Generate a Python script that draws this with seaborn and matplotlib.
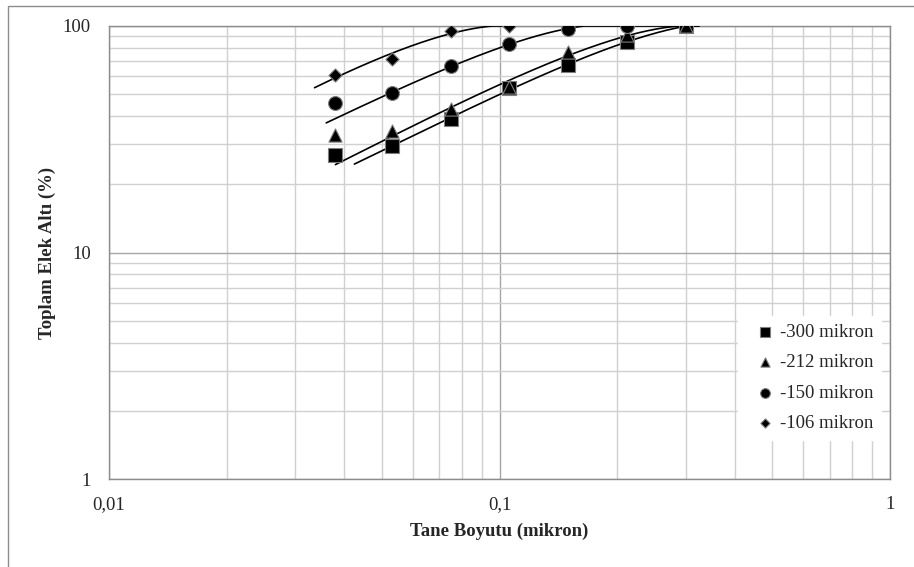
import numpy as np
import pandas as pd
import matplotlib
matplotlib.use("Agg")
import matplotlib.pyplot as plt
import matplotlib.ticker as mticker
import seaborn as sns

# elek acikliklari (x) ve toplam elek alti (%)
sizes = [0.038, 0.053, 0.075, 0.106, 0.150, 0.212, 0.300]
s300 = [27.0, 29.5, 38.8, 53.4, 67.5, 84.8, 100.0]
s212 = [33.0, 34.5, 42.9, 54.0, 76.4, 91.0, 100.0]
s150 = [45.9, 50.4, 66.8, 83.1, 97.0, 100.0]
s106 = [61.0, 71.7, 95.4, 100.0]
labels = ["-300 mikron", "-212 mikron", "-150 mikron", "-106 mikron"]
# trend cizgisi araliklari ve fite girmeyen ilk nokta sayisi
trend_from = [0.0425, 0.038, 0.036, 0.0336]
trend_to = [0.324, 0.324, 0.324, 0.108]
fit_skip = [1, 1, 1, 0]

series = [s300, s212, s150, s106]
rows = []
for lab, vals in zip(labels, series):
    for x, y in zip(sizes, vals):
        rows.append((lab, x, y))
df = pd.DataFrame(rows, columns=["seri", "x", "y"])

sns.set_style("white")
plt.rcParams["font.family"] = ["Liberation Serif", "DejaVu Serif"]

fig = plt.figure(figsize=(9.14, 5.67), dpi=100)
ax = fig.add_axes([109 / 914, 1 - 479 / 567, 781 / 914, 453 / 567])

# trend cizgileri (2. derece polinom, 100'de sinirli)
for lab, vals, a, b, k in zip(labels, series, trend_from, trend_to, fit_skip):
    xs = np.array(sizes[k:len(vals)])
    c = np.polyfit(xs, vals[k:], 2)
    xx = np.geomspace(a, b, 300)
    yy = np.polyval(c, xx)
    top = np.argmax(yy)
    yy[top:] = yy[top]
    yy = np.minimum(yy, 100)
    sns.lineplot(x=xx, y=yy, ax=ax, color="black", lw=1.2, legend=False, zorder=3)

markers = {labels[0]: "s", labels[1]: "^", labels[2]: "o", labels[3]: "D"}
sizes_m = {labels[0]: 90, labels[1]: 90, labels[2]: 100, labels[3]: 45}
for lab in labels:
    d = df[df.seri == lab]
    sns.scatterplot(data=d, x="x", y="y", marker=markers[lab], s=sizes_m[lab],
                    color="black", edgecolor="#7f7f7f", linewidth=0.8, ax=ax,
                    label=lab, zorder=4)

ax.set_xscale("log")
ax.set_yscale("log")
ax.set_xlim(0.01, 1)
ax.set_ylim(1, 100)

ax.xaxis.set_major_locator(mticker.LogLocator(base=10, numticks=5))
ax.xaxis.set_minor_locator(mticker.LogLocator(base=10, subs=np.arange(2, 10), numticks=20))
ax.yaxis.set_major_locator(mticker.LogLocator(base=10, numticks=5))
ax.yaxis.set_minor_locator(mticker.LogLocator(base=10, subs=np.arange(2, 10), numticks=20))
ax.xaxis.set_major_formatter(mticker.FuncFormatter(lambda v, p: ("%g" % v).replace(".", ",")))
ax.yaxis.set_major_formatter(mticker.FuncFormatter(lambda v, p: "%g" % v))
ax.xaxis.set_minor_formatter(mticker.NullFormatter())
ax.yaxis.set_minor_formatter(mticker.NullFormatter())

ax.grid(which="major", color="#a6a6a6", lw=1.0)
ax.grid(which="minor", color="#d0d0d0", lw=1.0)
ax.set_axisbelow(True)
for sp in ax.spines.values():
    sp.set_color("#8c8c8c")
    sp.set_linewidth(1.0)
ax.tick_params(which="both", length=0, labelsize=13.5, pad=12)
ax.tick_params(axis="y", pad=13)

ax.set_xlabel("Tane Boyutu (mikron)", fontsize=13.5, fontweight="bold", labelpad=7)
ax.set_ylabel("Toplam Elek Altı (%)", fontsize=13.5, fontweight="bold", labelpad=5)

leg = ax.legend(loc="lower right", bbox_to_anchor=(1.0, 0.066), frameon=True,
                fontsize=13.5, handletextpad=-0.2, labelspacing=0.71,
                borderpad=0.4, markerscale=0.7)
leg.get_frame().set_edgecolor("white")
leg.get_frame().set_facecolor("white")
leg.get_frame().set_alpha(1.0)
leg.get_frame().set_boxstyle("square", pad=0.0)

# grafik alani cercevesi
fig.patches.append(plt.Rectangle((8 / 914, -0.1), 1.2, 1 - 6 / 567 + 0.1,
                                 transform=fig.transFigure, fill=False,
                                 edgecolor="#8c8c8c", lw=1.0))

fig.savefig("out.png", dpi=100)
